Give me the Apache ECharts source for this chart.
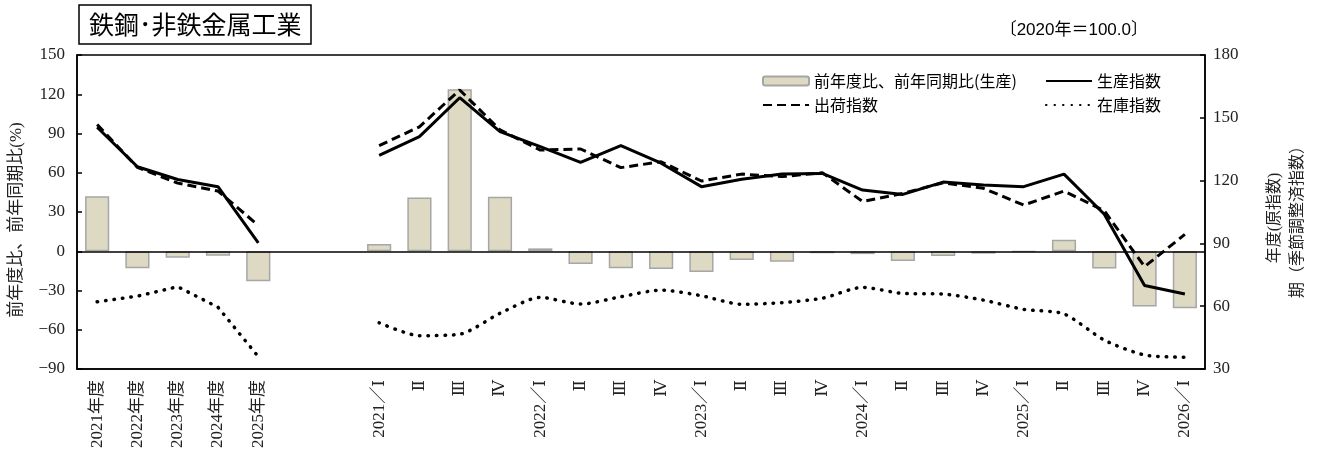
<!DOCTYPE html>
<html><head><meta charset="utf-8">
<script src="https://cdn.jsdelivr.net/npm/echarts@6/dist/echarts.min.js"></script>
<style>html,body{margin:0;padding:0;background:#fff}#c{width:1320px;height:457px}</style>
</head><body><div id="c"></div>
<script>
// ---- data ----
const annualLabels = ['2021年度','2022年度','2023年度','2024年度','2025年度'];
const quarterLabels = ['2021／Ⅰ','Ⅱ','Ⅲ','Ⅳ','2022／Ⅰ','Ⅱ','Ⅲ','Ⅳ','2023／Ⅰ','Ⅱ','Ⅲ','Ⅳ','2024／Ⅰ','Ⅱ','Ⅲ','Ⅳ','2025／Ⅰ','Ⅱ','Ⅲ','Ⅳ','2026／Ⅰ'];
const gapLabels = ['',''];

const yoyAnnual  = [42, -13, -5, -3.5, -23];
const prodAnnual = [145.5, 126.6, 120.5, 117.1, 90.3];
const shipAnnual = [146.8, 126.3, 118.8, 115.0, 98.6];
const invAnnual  = [62.1, 64.8, 69.3, 59.5, 35.9];

const yoyQuarter  = [5.5, 41, 123.8, 41.7, 2.2, -9.7, -13, -13.6, -15.9, -6.7, -8, -1.5, -2.2, -7.5, -3.6, -1.8, -0.5, 8.8, -13.2, -42.3, -43.6];
const prodQuarter = [132.1, 141, 159.6, 143.4, 136.2, 128.7, 136.7, 128.3, 117.1, 120.6, 123.1, 123.4, 115.5, 113.4, 119.3, 117.9, 117.1, 123.1, 103.9, 69.9, 65.8];
const shipQuarter = [136.7, 145.7, 163.3, 144.2, 134.6, 135.1, 126.2, 129, 119.8, 123.1, 121.9, 123.8, 110, 113.9, 119, 116.3, 108.3, 115, 105.6, 78.9, 94.3];
const invQuarter  = [52.1, 45.9, 46.6, 56.6, 64.2, 61, 64.5, 67.7, 65, 60.9, 61.7, 63.8, 69, 66.1, 65.8, 62.9, 58.5, 56.3, 43.8, 36.7, 35.6];

const leftTicks = {min: -90, max: 150, interval: 30};
const rightTicks = {min: 30, max: 180, interval: 30};

// ---- build ----
const categories = annualLabels.concat(gapLabels, quarterLabels);
const gapNulls = gapLabels.map(() => null);
const join = (a, q) => a.concat(gapNulls, q);
const qNulls = quarterLabels.map(() => null);
const aNulls = annualLabels.map(() => null);

const serif = "'Liberation Serif','DejaVu Serif','Noto Sans CJK JP',serif";
const sans = "'Noto Sans CJK JP','Liberation Sans',sans-serif";
const minus = v => String(v).replace('-', '\u2212');

const invStyle = {color: '#000', width: 3.5, type: [0.5, 8], cap: 'round'};
const noSym = {opacity: 0};

const chart = echarts.init(document.getElementById('c'));
chart.setOption({
  animation: false,
  backgroundColor: '#fff',
  title: {
    text: '鉄鋼･非鉄金属工業', left: 79, top: 5, padding: [5, 10, 5, 10],
    borderColor: '#000', borderWidth: 1.5,
    textStyle: {fontFamily: sans, fontSize: 25, fontWeight: 'normal', color: '#000', lineHeight: 29}
  },
  grid: {left: 77, right: 115, top: 55, bottom: 88, show: true, borderColor: '#000', borderWidth: 1.5, outerBoundsMode: 'none', containLabel: false},
  legend: [
    {left: 757, top: 67, orient: 'vertical', itemGap: 6, itemWidth: 46, itemHeight: 9,
     data: ['前年度比、前年同期比(生産)', {name: '出荷指数', itemStyle: noSym}],
     textStyle: {fontFamily: sans, fontSize: 16, color: '#000', lineHeight: 18}},
    {left: 1040, top: 67, orient: 'vertical', itemGap: 6, itemWidth: 46, itemHeight: 9,
     data: [{name: '生産指数', itemStyle: noSym}, {name: '在庫指数', itemStyle: noSym}],
     textStyle: {fontFamily: sans, fontSize: 16, color: '#000', lineHeight: 18}}
  ],
  xAxis: {
    type: 'category', data: categories, boundaryGap: true,
    axisLine: {show: true, onZero: false, lineStyle: {color: '#000', width: 1.5}},
    axisTick: {show: false},
    axisLabel: {interval: 0, rotate: 90, margin: 11, fontFamily: serif, fontSize: 17, color: '#222'},
    splitLine: {show: false}
  },
  yAxis: [
    {type: 'value', min: leftTicks.min, max: leftTicks.max, interval: leftTicks.interval, position: 'left',
     axisLine: {show: true, lineStyle: {color: '#000', width: 1.5}},
     axisTick: {show: true, inside: true, length: 5, lineStyle: {color: '#000', width: 1.5}},
     axisLabel: {margin: 12, fontFamily: serif, fontSize: 17, color: '#222', formatter: minus},
     splitLine: {show: false}},
    {type: 'value', min: rightTicks.min, max: rightTicks.max, interval: rightTicks.interval, position: 'right',
     axisLine: {show: true, lineStyle: {color: '#000', width: 1.5}},
     axisTick: {show: true, inside: true, length: 5, lineStyle: {color: '#000', width: 1.5}},
     axisLabel: {margin: 8, fontFamily: serif, fontSize: 17, color: '#222'},
     splitLine: {show: false}}
  ],
  graphic: [
    {type: 'text', x: 1148, y: 30, style: {text: '〔2020年＝100.0〕', fontFamily: "'Liberation Sans','Noto Sans CJK JP',sans-serif", fontSize: 17, fill: '#000', align: 'right', verticalAlign: 'middle'}},
    {type: 'text', x: 17, y: 220, rotation: Math.PI / 2, style: {text: '前年度比、前年同期比(%)', fontFamily: serif, fontSize: 17, fill: '#222', align: 'center', verticalAlign: 'middle'}},
    {type: 'text', x: 1286, y: 218, rotation: Math.PI / 2, style: {text: '年度(原指数)\n期（季節調整済指数）', fontFamily: serif, fontSize: 16, lineHeight: 23, fill: '#222', align: 'center', verticalAlign: 'middle'}}
  ],
  series: [
    {name: '前年度比、前年同期比(生産)', type: 'bar', yAxisIndex: 0, barWidth: '60%',
     data: join(yoyAnnual, yoyQuarter),
     itemStyle: {color: '#DDD9C3', borderColor: '#A6A6A6', borderWidth: 1.5},
     markLine: {silent: true, symbol: ['none', 'none'], label: {show: false},
       lineStyle: {color: '#000', type: 'solid', width: 1.5}, data: [{yAxis: 0}]},
     z: 1},
    {name: '生産指数', type: 'line', yAxisIndex: 1, symbol: 'none', data: join(prodAnnual, prodQuarter),
     lineStyle: {color: '#000', width: 3}, itemStyle: {color: '#000'}, z: 4},
    {name: '出荷指数', type: 'line', yAxisIndex: 1, symbol: 'none', data: join(shipAnnual, shipQuarter),
     lineStyle: {color: '#000', width: 3, type: [9, 5]}, itemStyle: {color: '#000'}, z: 3},
    {name: '在庫指数', type: 'line', yAxisIndex: 1, symbol: 'none', data: invAnnual.concat(gapNulls, qNulls),
     lineStyle: invStyle, itemStyle: {color: '#000'}, z: 3},
    {name: '在庫指数', type: 'line', yAxisIndex: 1, symbol: 'none', smooth: 0.25, data: aNulls.concat(gapNulls, invQuarter),
     lineStyle: invStyle, itemStyle: {color: '#000'}, z: 3}
  ]
});
</script></body></html>
